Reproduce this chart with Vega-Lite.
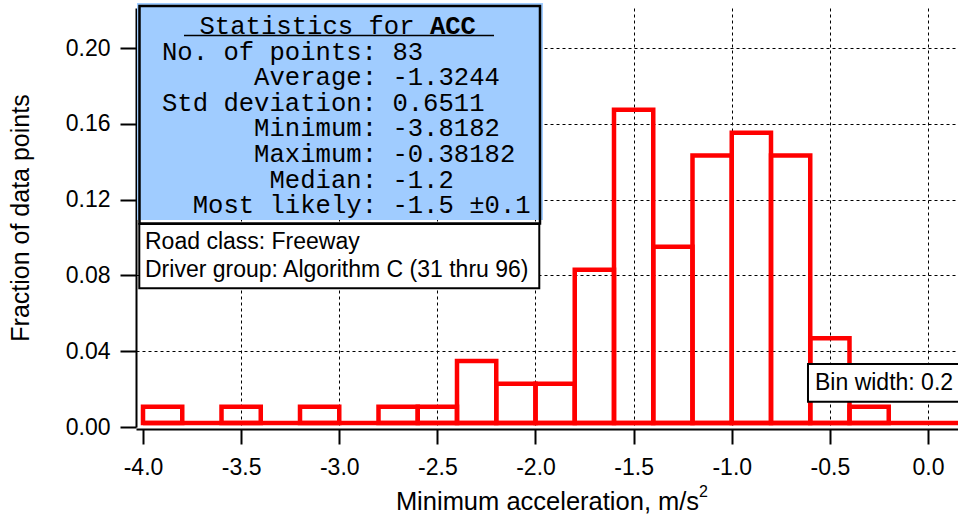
{
  "$schema": "https://vega.github.io/schema/vega-lite/v6.json",
  "width": 822,
  "height": 419,
  "autosize": {"type": "none"},
  "padding": {"left": 136, "top": 8, "right": 0, "bottom": 93},
  "background": "white",
  "config": {
    "view": {"stroke": null},
    "font": "Liberation Sans",
    "axis": {"labelFont": "Liberation Sans", "titleFont": "Liberation Sans", "labelColor": "black", "titleColor": "black", "titleFontWeight": "normal"}
  },
  "data": {
    "values": [
      {"start": -4.0, "end": -3.8, "fraction": 0.01205},
      {"start": -3.8, "end": -3.6, "fraction": 0},
      {"start": -3.6, "end": -3.4, "fraction": 0.01205},
      {"start": -3.4, "end": -3.2, "fraction": 0},
      {"start": -3.2, "end": -3.0, "fraction": 0.01205},
      {"start": -3.0, "end": -2.8, "fraction": 0},
      {"start": -2.8, "end": -2.6, "fraction": 0.01205},
      {"start": -2.6, "end": -2.4, "fraction": 0.01205},
      {"start": -2.4, "end": -2.2, "fraction": 0.03614},
      {"start": -2.2, "end": -2.0, "fraction": 0.0241},
      {"start": -2.0, "end": -1.8, "fraction": 0.0241},
      {"start": -1.8, "end": -1.6, "fraction": 0.08434},
      {"start": -1.6, "end": -1.4, "fraction": 0.16867},
      {"start": -1.4, "end": -1.2, "fraction": 0.09639},
      {"start": -1.2, "end": -1.0, "fraction": 0.14458},
      {"start": -1.0, "end": -0.8, "fraction": 0.15663},
      {"start": -0.8, "end": -0.6, "fraction": 0.14458},
      {"start": -0.6, "end": -0.4, "fraction": 0.04819},
      {"start": -0.4, "end": -0.2, "fraction": 0.01205},
      {"start": -0.2, "end": 0.0, "fraction": 0},
      {"start": 0.0, "end": 0.2, "fraction": 0}
    ]
  },
  "layer": [
    {
      "transform": [{"filter": "datum.fraction > 0"}],
      "mark": {"type": "rect", "fill": null, "stroke": "#ff0000", "strokeWidth": 4.5, "yOffset": 2.5, "y2Offset": -4},
      "encoding": {
        "x": {
          "field": "start", "type": "quantitative",
          "scale": {"domain": [-4.0357, 0.1529], "nice": false, "zero": false},
          "axis": {
            "orient": "bottom",
            "values": [-4, -3.5, -3, -2.5, -2, -1.5, -1, -0.5, 0],
            "labelExpr": "replace(format(datum.value, '.1f'), '\u2212', '-')",
            "title": "Minimum acceleration, m/s",
            "offset": 2,
            "tickSize": 15, "tickWidth": 2, "tickColor": "black",
            "domainColor": "black", "domainWidth": 2,
            "labelFontSize": 23, "labelPadding": 12, "labelFlush": false,
            "titleFontSize": 25.5, "titlePadding": 10,
            "grid": true, "gridColor": "black", "gridDash": [3, 3], "gridWidth": 1,
            "gridOpacity": {"condition": {"test": "datum.value <= -4", "value": 0}, "value": 1}
          }
        },
        "x2": {"field": "end"},
        "y": {
          "field": "fraction", "type": "quantitative",
          "scale": {"domain": [0, 0.22111], "nice": false},
          "axis": {
            "orient": "left",
            "values": [0, 0.02, 0.04, 0.06, 0.08, 0.1, 0.12, 0.14, 0.16, 0.18, 0.2, 0.22],
            "labelExpr": "round(datum.value * 100) % 4 == 0 ? format(datum.value, '.2f') : ''",
            "title": "Fraction of data points",
            "tickSize": {"condition": {"test": "round(datum.value * 100) % 4 != 0", "value": 8}, "value": 16},
            "tickWidth": 2, "tickColor": "black",
            "domainColor": "black", "domainWidth": 2,
            "labelFontSize": 23, "labelPadding": 10, "labelFlush": false,
            "titleFontSize": 25, "titlePadding": 32,
            "grid": true, "gridColor": "black", "gridDash": [3, 3], "gridWidth": 1,
            "gridOpacity": {"condition": {"test": "round(datum.value * 100) % 4 != 0 || datum.value == 0", "value": 0}, "value": 1}
          }
        },
        "y2": {"datum": 0}
      }
    },
    {
      "mark": {"type": "rule", "stroke": "#ff0000", "strokeWidth": 4.5, "yOffset": -4},
      "encoding": {
        "x": {"aggregate": "min", "field": "start", "type": "quantitative"},
        "x2": {"aggregate": "max", "field": "end"},
        "y": {"datum": 0, "type": "quantitative"}
      }
    },
    {
      "data": {"values": [{}]},
      "mark": {"type": "text", "text": "2", "font": "Liberation Sans", "fontSize": 16, "align": "left", "baseline": "alphabetic", "color": "black"},
      "encoding": {
        "x": {"datum": -1.1669, "type": "quantitative"},
        "y": {"datum": -0.03694, "type": "quantitative"}
      }
    },
    {
      "data": {"values": [{}]},
      "mark": {"type": "rect", "fill": "#A0CCFF", "stroke": null},
      "encoding": {
        "x": {"datum": -4.0306, "type": "quantitative"},
        "x2": {"datum": -1.9618},
        "y": {"datum": 0.22375, "type": "quantitative"},
        "y2": {"datum": 0.10923}
      }
    },
    {
      "data": {"values": [{}]},
      "mark": {"type": "rect", "fill": null, "stroke": "black", "strokeWidth": 2.5},
      "encoding": {
        "x": {"datum": -4.0179, "type": "quantitative"},
        "x2": {"datum": -1.9771},
        "y": {"datum": 0.22216, "type": "quantitative"},
        "y2": {"datum": 0.10739}
      }
    },
    {
      "data": {"values": [{}]},
      "mark": {"type": "rule", "stroke": "black", "strokeWidth": 1.5},
      "encoding": {
        "x": {"datum": -3.7911, "type": "quantitative"},
        "x2": {"datum": -2.2115},
        "y": {"datum": 0.2066, "type": "quantitative"}
      }
    },
    {
      "data": {"values": [{}]},
      "mark": {"type": "text", "text": "Statistics for", "font": "Liberation Mono", "fontSize": 25.6, "align": "left", "baseline": "alphabetic", "color": "black"},
      "encoding": {
        "x": {"datum": -3.7121, "type": "quantitative"},
        "y": {"datum": 0.20765, "type": "quantitative"}
      }
    },
    {
      "data": {"values": [{}]},
      "mark": {"type": "text", "text": "ACC", "font": "Liberation Mono", "fontSize": 25.6, "fontWeight": "bold", "align": "left", "baseline": "alphabetic", "color": "black"},
      "encoding": {
        "x": {"datum": -2.5381, "type": "quantitative"},
        "y": {"datum": 0.20765, "type": "quantitative"}
      }
    },
    {
      "data": {"values": [{}]},
      "mark": {"type": "text", "text": ["No. of points:", "Average:", "Std deviation:", "Minimum:", "Maximum:", "Median:", "Most likely:"], "font": "Liberation Mono", "fontSize": 25.6, "lineHeight": 25.6, "align": "right", "baseline": "alphabetic", "color": "black"},
      "encoding": {
        "x": {"datum": -2.8077, "type": "quantitative"},
        "y": {"datum": 0.19393, "type": "quantitative"}
      }
    },
    {
      "data": {"values": [{}]},
      "mark": {"type": "text", "text": ["83", "-1.3244", "0.6511", "-3.8182", "-0.38182", "-1.2", "-1.5 ±0.1"], "font": "Liberation Mono", "fontSize": 25.6, "lineHeight": 25.6, "align": "left", "baseline": "alphabetic", "color": "black"},
      "encoding": {
        "x": {"datum": -2.7292, "type": "quantitative"},
        "y": {"datum": 0.19393, "type": "quantitative"}
      }
    },
    {
      "data": {"values": [{}]},
      "mark": {"type": "rect", "fill": "white", "stroke": "black", "strokeWidth": 2},
      "encoding": {
        "x": {"datum": -4.0189, "type": "quantitative"},
        "x2": {"datum": -1.9807},
        "y": {"datum": 0.10712, "type": "quantitative"},
        "y2": {"datum": 0.07319}
      }
    },
    {
      "data": {"values": [{}]},
      "mark": {"type": "text", "text": ["Road class: Freeway", "Driver group: Algorithm C (31 thru 96)"], "font": "Liberation Sans", "fontSize": 23, "lineHeight": 27.4, "align": "left", "baseline": "alphabetic", "color": "black"},
      "encoding": {
        "x": {"datum": -3.9898, "type": "quantitative"},
        "y": {"datum": 0.09377, "type": "quantitative"}
      }
    },
    {
      "data": {"values": [{}]},
      "mark": {"type": "rect", "fill": "white", "stroke": "black", "strokeWidth": 2},
      "encoding": {
        "x": {"datum": -0.6115, "type": "quantitative"},
        "x2": {"datum": 0.2},
        "y": {"datum": 0.033245, "type": "quantitative"},
        "y2": {"datum": 0.013351}
      }
    },
    {
      "data": {"values": [{}]},
      "mark": {"type": "text", "text": "Bin width: 0.2", "font": "Liberation Sans", "fontSize": 23, "align": "left", "baseline": "alphabetic", "color": "black"},
      "encoding": {
        "x": {"datum": -0.5758, "type": "quantitative"},
        "y": {"datum": 0.019525, "type": "quantitative"}
      }
    }
  ]
}
